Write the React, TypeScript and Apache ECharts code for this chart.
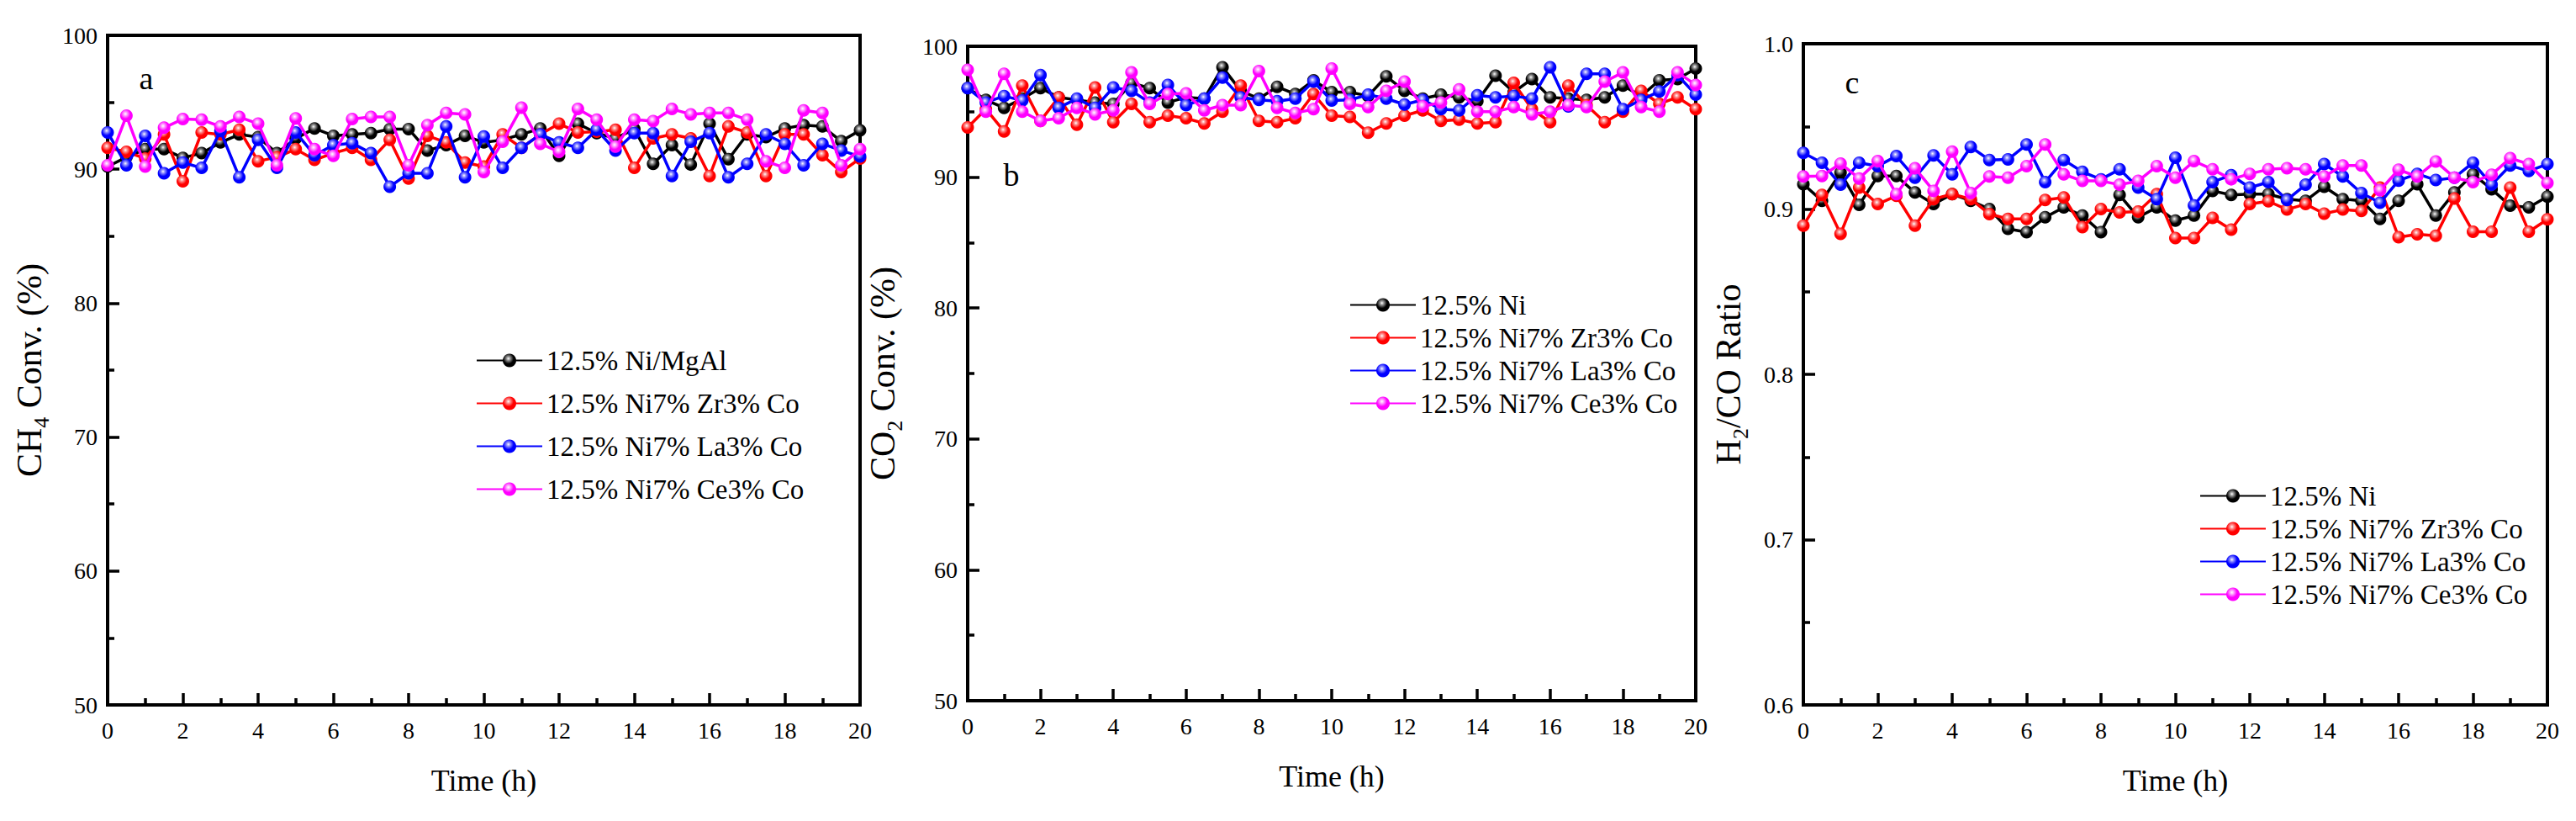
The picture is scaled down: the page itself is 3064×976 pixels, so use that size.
import { useEffect, useRef } from "react";
import * as echarts from "echarts";

// time on stream (h)
const hours = [
  0, 0.5, 1, 1.5, 2, 2.5, 3, 3.5, 4, 4.5, 5, 5.5, 6, 6.5, 7, 7.5, 8, 8.5, 9, 9.5, 10,
  10.5, 11, 11.5, 12, 12.5, 13, 13.5, 14, 14.5, 15, 15.5, 16, 16.5, 17, 17.5, 18, 18.5, 19, 19.5, 20,
];

// (a) CH4 conversion, %
const ch4Ni = [
  90.2, 90.9, 91.5, 91.5, 90.85, 91.2, 92.0, 92.6, 92.4, 91.2, 92.3, 93.05, 92.5, 92.6, 92.7, 93.0, 93.0, 91.4, 91.8, 92.5, 92.0,
  92.2, 92.6, 93.05, 91.0, 93.4, 92.7, 92.3, 93.0, 90.4, 91.8, 90.35, 93.4, 90.75, 92.6, 92.4, 93.05, 93.3, 93.2, 92.1, 92.9,
];
const ch4Zr = [
  91.6, 91.3, 90.8, 92.6, 89.1, 92.75, 92.6, 92.95, 90.6, 90.9, 91.5, 90.7, 91.2, 91.6, 90.7, 92.2, 89.3, 92.5, 92.0, 90.5, 90.2,
  92.6, 91.6, 92.6, 93.4, 92.75, 92.8, 92.95, 90.1, 92.3, 92.6, 92.3, 89.5, 93.2, 92.75, 89.5, 92.6, 92.6, 91.05, 89.8, 90.8,
];
const ch4La = [
  92.75, 90.3, 92.5, 89.7, 90.5, 90.1, 92.85, 89.4, 92.2, 90.1, 92.75, 91.05, 91.8, 91.95, 91.2, 88.7, 89.7, 89.7, 93.2, 89.4, 92.45,
  90.1, 91.6, 92.6, 92.0, 91.6, 92.95, 91.4, 92.7, 92.7, 89.5, 92.05, 92.7, 89.4, 90.4, 92.6, 91.9, 90.3, 91.9, 91.4, 90.95,
];
const ch4Ce = [
  90.3, 94.0, 90.2, 93.1, 93.75, 93.7, 93.2, 93.9, 93.4, 90.3, 93.8, 91.5, 91.0, 93.75, 93.9, 93.9, 90.3, 93.3, 94.2, 94.1, 89.8,
  92.05, 94.6, 91.9, 91.3, 94.5, 93.7, 91.7, 93.7, 93.6, 94.5, 94.1, 94.2, 94.2, 93.7, 90.6, 90.1, 94.4, 94.2, 90.3, 91.5,
];

// (b) CO2 conversion, %
const co2Ni = [
  96.8, 95.9, 95.3, 96.0, 96.8, 96.1, 95.9, 95.7, 95.6, 97.2, 96.8, 95.7, 96.1, 96.0, 98.4, 96.6, 96.0, 96.9, 96.35, 97.4, 96.5,
  96.5, 96.2, 97.7, 96.6, 96.0, 96.3, 96.1, 95.8, 97.75, 96.5, 97.5, 96.1, 96.0, 95.9, 96.1, 97.0, 96.2, 97.4, 97.5, 98.3,
];
const co2Zr = [
  93.8, 95.2, 93.5, 97.0, 94.3, 96.1, 94.0, 96.85, 94.2, 95.6, 94.2, 94.7, 94.5, 94.1, 95.0, 97.0, 94.3, 94.2, 94.5, 96.35, 94.7,
  94.6, 93.4, 94.1, 94.7, 95.1, 94.3, 94.4, 94.1, 94.2, 97.2, 95.2, 94.2, 97.0, 95.5, 94.2, 95.0, 96.6, 95.6, 96.1, 95.2,
];
const co2La = [
  96.8, 95.7, 96.2, 95.85, 97.8, 95.3, 96.0, 95.3, 96.85, 96.6, 95.7, 97.05, 95.5, 96.0, 97.6, 96.1, 95.9, 95.8, 96.0, 97.3, 95.85,
  95.9, 96.3, 96.0, 95.55, 95.9, 95.2, 95.1, 96.25, 96.1, 96.2, 96.0, 98.4, 95.4, 97.9, 97.9, 95.2, 95.9, 96.55, 97.8, 96.3,
];
const co2Ce = [
  98.2, 95.0, 97.9, 95.0, 94.3, 94.5, 95.3, 94.8, 95.1, 98.0, 95.6, 96.35, 96.4, 95.1, 95.5, 95.5, 98.1, 95.3, 94.9, 95.2, 98.3,
  95.6, 95.35, 96.6, 97.3, 95.4, 95.7, 96.7, 95.0, 95.0, 95.35, 94.8, 95.0, 95.5, 95.35, 97.3, 98.0, 95.35, 95.0, 98.0, 97.05,
];

// (c) H2/CO ratio
const ratioNi = [
  0.915, 0.905, 0.922, 0.9025, 0.92, 0.92, 0.91, 0.903, 0.909, 0.905, 0.9, 0.888, 0.886, 0.895, 0.901, 0.896, 0.886, 0.9085, 0.895, 0.901, 0.893,
  0.896, 0.911, 0.9085, 0.909, 0.909, 0.906, 0.905, 0.9135, 0.906, 0.905, 0.894, 0.905, 0.915, 0.896, 0.91, 0.921, 0.912, 0.902, 0.901, 0.9075,
];
const ratioZr = [
  0.89, 0.9085, 0.885, 0.913, 0.903, 0.908, 0.89, 0.906, 0.909, 0.906, 0.897, 0.894, 0.894, 0.9055, 0.907, 0.889, 0.9, 0.898, 0.8985, 0.909, 0.8825,
  0.8825, 0.8947, 0.8875, 0.903, 0.9047, 0.8997, 0.903, 0.8972, 0.8997, 0.8988, 0.913, 0.883, 0.8847, 0.8838, 0.9063, 0.8863, 0.8863, 0.913, 0.8863, 0.8938,
];
const ratioLa = [
  0.934, 0.928, 0.9147, 0.928, 0.926, 0.932, 0.919, 0.9325, 0.921, 0.9375, 0.9297, 0.93, 0.939, 0.9163, 0.9297, 0.9225, 0.918, 0.924, 0.913, 0.906, 0.931,
  0.9022, 0.9163, 0.9205, 0.913, 0.9163, 0.9055, 0.9147, 0.9272, 0.9197, 0.9097, 0.9038, 0.9172, 0.9213, 0.9175, 0.919, 0.928, 0.9147, 0.9263, 0.923, 0.9272,
];
const ratioCe = [
  0.9197, 0.92, 0.9275, 0.9185, 0.929, 0.909, 0.9247, 0.911, 0.9347, 0.9097, 0.9197, 0.919, 0.926, 0.939, 0.921, 0.917, 0.917, 0.9147, 0.917, 0.926, 0.919,
  0.929, 0.924, 0.918, 0.9213, 0.924, 0.9247, 0.924, 0.9197, 0.9263, 0.9263, 0.9113, 0.9238, 0.9197, 0.9288, 0.919, 0.9163, 0.9208, 0.9308, 0.9272, 0.9158,
];

const namesA = ["12.5% Ni/MgAl", "12.5% Ni7% Zr3% Co", "12.5% Ni7% La3% Co", "12.5% Ni7% Ce3% Co"];
const namesBC = ["12.5% Ni", "12.5% Ni7% Zr3% Co", "12.5% Ni7% La3% Co", "12.5% Ni7% Ce3% Co"];

const FONT = "Liberation Serif, Times New Roman, serif";
const COLORS = ["#000000", "#ff0000", "#0000ff", "#ff00ff"];
const SHINE = ["#a0a0a0", "#ff9c9c", "#9c9cff", "#ffb0ff"];

const panels = [
  {
    grid: { left: 128, top: 42, width: 895, height: 796 },
    y: { min: 50, max: 100, interval: 10, dec: 0 },
    yName: "CH{s|4} Conv. (%)",
    yGap: 66,
    names: namesA,
    series: [ch4Ni, ch4Zr, ch4La, ch4Ce],
    legend: { left: 566, top: 412, gap: 18 },
    letter: { text: "a", x: 174, y: 93 },
  },
  {
    grid: { left: 1151, top: 55, width: 866, height: 778 },
    y: { min: 50, max: 100, interval: 10, dec: 0 },
    yName: "CO{s|2} Conv. (%)",
    yGap: 74,
    names: namesBC,
    series: [co2Ni, co2Zr, co2La, co2Ce],
    legend: { left: 1605, top: 346, gap: 6 },
    letter: { text: "b", x: 1203, y: 208 },
  },
  {
    grid: { left: 2145, top: 52, width: 885, height: 786 },
    y: { min: 0.6, max: 1.0, interval: 0.1, dec: 1 },
    yName: "H{s|2}/CO Ratio",
    yGap: 62,
    names: namesBC,
    series: [ratioNi, ratioZr, ratioLa, ratioCe],
    legend: { left: 2616, top: 573, gap: 6 },
    letter: { text: "c", x: 2203, y: 98 },
  },
];

function ball(i: number) {
  return new echarts.graphic.RadialGradient(0.42, 0.36, 0.62, [
    { offset: 0, color: "#ffffff" },
    { offset: 0.2, color: SHINE[i] },
    { offset: 0.62, color: COLORS[i] },
    { offset: 1, color: COLORS[i] },
  ]);
}

export default function App() {
  const ref = useRef<HTMLDivElement>(null);

  useEffect(() => {
    document.body.style.margin = "0";
    if (!ref.current) return;
    const chart = echarts.init(ref.current, null, { renderer: "svg" });

    const axisText = { color: "#000", fontFamily: FONT, fontSize: 28 };

    chart.setOption({
      animation: false,
      backgroundColor: "#ffffff",
      textStyle: { fontFamily: FONT, color: "#000" },
      grid: panels.map((p) => ({
        ...p.grid,
        show: true,
        borderColor: "#000",
        borderWidth: 4,
        backgroundColor: "transparent",
      })),
      xAxis: panels.map((p, i) => ({
        type: "value",
        gridIndex: i,
        min: 0,
        max: 20,
        interval: 2,
        name: "Time (h)",
        nameLocation: "middle",
        nameGap: 72,
        nameTextStyle: { fontFamily: FONT, fontSize: 36, color: "#000" },
        axisLine: { show: true, lineStyle: { color: "#000", width: 4 } },
        axisTick: { show: true, inside: true, length: 14, lineStyle: { color: "#000", width: 3.5 } },
        minorTick: { show: true, splitNumber: 2, length: 8, lineStyle: { color: "#000", width: 3.5 } },
        axisLabel: { ...axisText, margin: 16 },
        splitLine: { show: false },
        minorSplitLine: { show: false },
      })),
      yAxis: panels.map((p, i) => ({
        type: "value",
        gridIndex: i,
        min: p.y.min,
        max: p.y.max,
        interval: p.y.interval,
        name: p.yName,
        nameLocation: "middle",
        nameGap: p.yGap,
        nameTextStyle: {
          fontFamily: FONT,
          fontSize: 42,
          color: "#000",
          rich: { s: { fontFamily: FONT, fontSize: 26, color: "#000", verticalAlign: "bottom", lineHeight: 54 } },
        },
        axisLine: { show: true, lineStyle: { color: "#000", width: 4 } },
        axisTick: { show: true, inside: true, length: 14, lineStyle: { color: "#000", width: 3.5 } },
        minorTick: { show: true, splitNumber: 2, length: 8, lineStyle: { color: "#000", width: 3.5 } },
        axisLabel: {
          ...axisText,
          margin: 12,
          formatter: (v: number) => v.toFixed(p.y.dec),
        },
        splitLine: { show: false },
        minorSplitLine: { show: false },
      })),
      legend: panels.map((p) => ({
        data: p.names,
        orient: "vertical",
        left: p.legend.left,
        top: p.legend.top,
        padding: 0,
        itemWidth: 78,
        itemHeight: 20,
        itemGap: p.legend.gap,
        selectedMode: false,
        textStyle: { fontFamily: FONT, fontSize: 33, color: "#000" },
      })),
      graphic: panels.map((p) => ({
        type: "text",
        x: p.letter.x,
        y: p.letter.y,
        style: {
          text: p.letter.text,
          fontFamily: FONT,
          fontSize: 38,
          fill: "#000",
          align: "center",
          verticalAlign: "middle",
        },
      })),
      series: panels.flatMap((p, gi) =>
        p.series.map((vals, si) => ({
          type: "line",
          name: p.names[si],
          xAxisIndex: gi,
          yAxisIndex: gi,
          data: vals.map((v, k) => [hours[k], v]),
          symbol: "circle",
          symbolSize: 15,
          showSymbol: true,
          lineStyle: { color: COLORS[si], width: 3.5 },
          itemStyle: { color: ball(si), borderWidth: 0 },
          emphasis: { disabled: true },
          z: 2 + si,
        }))
      ),
    });

    return () => chart.dispose();
  }, []);

  return <div ref={ref} style={{ width: 3064, height: 976 }} />;
}
